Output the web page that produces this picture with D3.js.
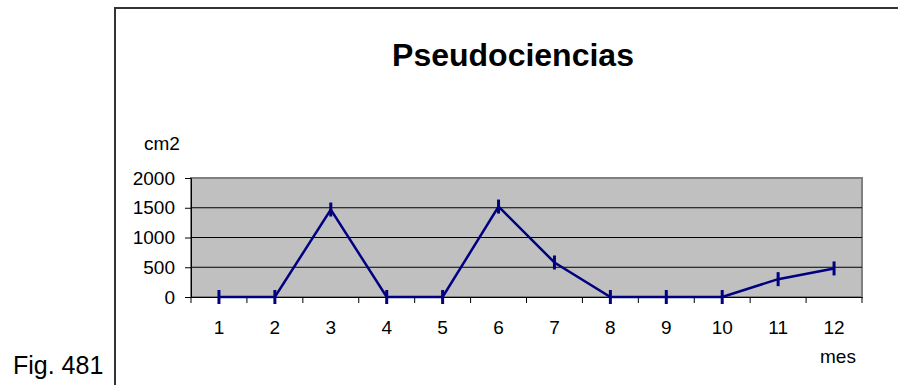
<!DOCTYPE html>
<html>
<head>
<meta charset="utf-8">
<script src="https://cdn.jsdelivr.net/npm/d3@7"></script>
<style>
  body { margin: 0; background: #fff; }
  svg { display: block; font-family: "Liberation Sans", Arial, sans-serif; }
</style>
</head>
<body>
<div id="container"></div>
<script>
const months = ['1', '2', '3', '4', '5', '6', '7', '8', '9', '10', '11', '12'];
const values = [0, 0, 1470, 0, 0, 1520, 580, 0, 0, 0, 300, 480];
const yTicks = [0, 500, 1000, 1500, 2000];

const w = 898;
const h = 385;

const svg = d3.select('#container')
  .append('svg')
    .attr('width', w)
    .attr('height', h);

// outer frame (top and left only)
svg.append('path')
  .attr('d', 'M115,385 V8 H898')
  .attr('fill', 'none')
  .attr('stroke', '#333')
  .attr('stroke-width', 2);

svg.append('text')
  .attr('x', 513)
  .attr('y', 66)
  .attr('text-anchor', 'middle')
  .style('font-size', '32px')
  .style('font-weight', 'bold')
  .text('Pseudociencias');

const x = d3.scaleBand()
  .domain(months)
  .range([191, 862]);

const y = d3.scaleLinear()
  .domain([0, 2000])
  .range([297, 178]);

// plot area
svg.append('rect')
  .attr('x', x.range()[0])
  .attr('y', y(2000))
  .attr('width', x.range()[1] - x.range()[0])
  .attr('height', y(0) - y(2000))
  .attr('fill', '#c0c0c0')
  .attr('stroke', '#808080')
  .attr('stroke-width', 2);

// gridlines
svg.append('g')
  .selectAll('line')
  .data(yTicks.filter(d => d > 0 && d < 2000))
  .enter()
  .append('line')
    .attr('x1', x.range()[0])
    .attr('x2', x.range()[1])
    .attr('y1', d => y(d))
    .attr('y2', d => y(d))
    .attr('stroke', '#000')
    .attr('stroke-width', 1);

// y axis
const yAxis = d3.axisLeft(y)
  .tickValues(yTicks)
  .tickFormat(d3.format('d'))
  .tickSize(6)
  .tickPadding(10);

svg.append('g')
  .attr('transform', 'translate(' + x.range()[0] + ',0)')
  .call(yAxis)
  .call(g => g.select('.domain').attr('stroke', '#000'))
  .call(g => g.selectAll('text')
    .style('font-size', '19px')
    .style('font-family', '"Liberation Sans", Arial, sans-serif')
    .attr('fill', '#000'));

// x axis: labels at band centres, ticks at band edges
const xAxis = d3.axisBottom(x)
  .tickSize(0)
  .tickPadding(24);

svg.append('g')
  .attr('transform', 'translate(0,' + y(0) + ')')
  .call(xAxis)
  .call(g => g.select('.domain').attr('stroke', '#000'))
  .call(g => g.selectAll('text')
    .style('font-size', '19px')
    .style('font-family', '"Liberation Sans", Arial, sans-serif')
    .attr('fill', '#000'));

svg.append('g')
  .selectAll('line')
  .data(months.map(m => x(m)).concat([x.range()[1]]))
  .enter()
  .append('line')
    .attr('x1', d => d)
    .attr('x2', d => d)
    .attr('y1', y(0))
    .attr('y2', y(0) + 6)
    .attr('stroke', '#000');

// axis titles
svg.append('text')
  .attr('x', 162)
  .attr('y', 150)
  .attr('text-anchor', 'middle')
  .style('font-size', '19px')
  .text('cm2');

svg.append('text')
  .attr('x', 838)
  .attr('y', 363)
  .attr('text-anchor', 'middle')
  .style('font-size', '19px')
  .text('mes');

svg.append('text')
  .attr('x', 13)
  .attr('y', 374)
  .style('font-size', '25px')
  .text('Fig. 481');

// series
const line = d3.line()
  .x((d, i) => x(months[i]) + x.bandwidth() / 2)
  .y(d => y(d));

svg.append('path')
  .datum(values)
  .attr('d', line)
  .attr('fill', 'none')
  .attr('stroke', '#000080')
  .attr('stroke-width', 2.5)
  .attr('stroke-linejoin', 'miter');

svg.append('g')
  .selectAll('line')
  .data(values)
  .enter()
  .append('line')
    .attr('x1', (d, i) => x(months[i]) + x.bandwidth() / 2)
    .attr('x2', (d, i) => x(months[i]) + x.bandwidth() / 2)
    .attr('y1', d => y(d) - 7)
    .attr('y2', d => y(d) + 7)
    .attr('stroke', '#000080')
    .attr('stroke-width', 3);
</script>
</body>
</html>
